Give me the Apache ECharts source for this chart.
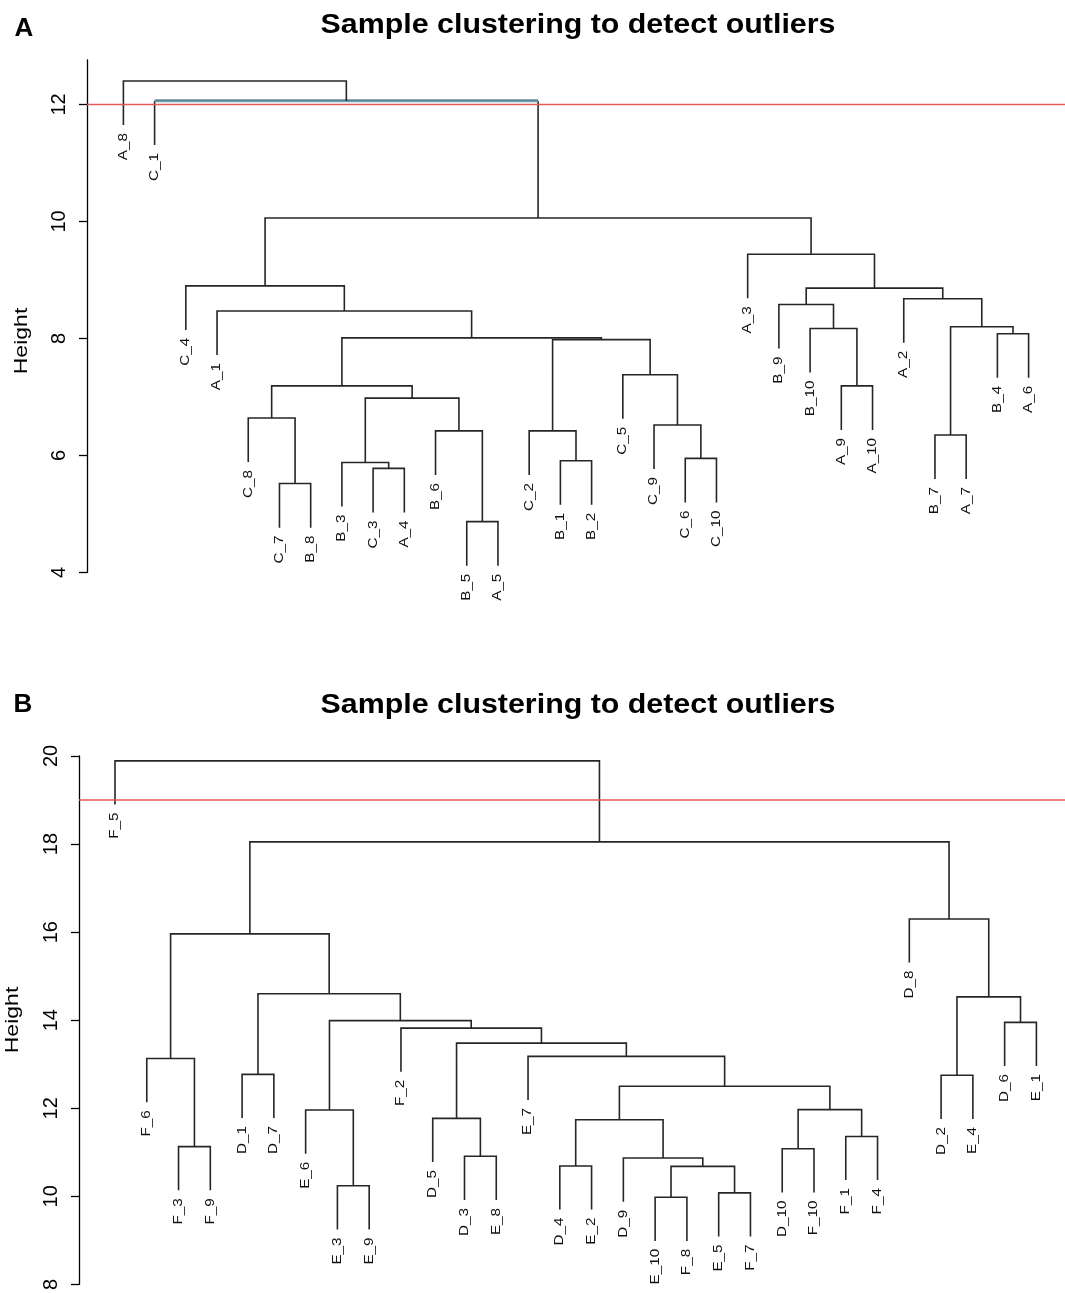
<!DOCTYPE html>
<html><head><meta charset="utf-8">
<script src="https://cdn.jsdelivr.net/npm/echarts@6/dist/echarts.min.js"></script>
<style>html,body{margin:0;padding:0;background:#fff}#c{width:1065px;height:1293px}</style>
</head><body><div id="c"></div>
<script>
// ---------- Panel A data ----------
const leavesA = ['A_8','C_1','C_4','A_1','C_8','C_7','B_8','B_3','C_3','A_4','B_6','B_5','A_5','C_2','B_1','B_2','C_5','C_9','C_6','C_10','A_3','B_9','B_10','A_9','A_10','A_2','B_7','A_7','B_4','A_6'];
const mergesA = [
  ['B_5','A_5'],['C_7','B_8'],['C_3','A_4'],['B_3','m3'],['B_1','B_2'],
  ['C_6','C_10'],['B_7','A_7'],['B_6','m1'],['C_2','m5'],['C_9','m6'],
  ['C_8','m2'],['m4','m8'],['m11','m12'],['A_9','A_10'],['C_5','m10'],
  ['m9','m15'],['m13','m16'],['B_4','A_6'],['B_10','m14'],['m7','m18'],
  ['A_1','m17'],['B_9','m19'],['A_2','m20'],['m22','m23'],['C_4','m21'],
  ['A_3','m24'],['m25','m26'],['C_1','m27'],['A_8','m28']
];
const heightsA = [4.87,5.52,5.78,5.88,5.91,5.95,6.35,6.42,6.42,6.52,6.64,6.98,7.19,7.19,7.38,7.98,8.01,8.08,8.17,8.20,8.47,8.58,8.68,8.86,8.90,9.44,10.06,12.06,12.40];
const cutA = 12;
const ticksA = [4,6,8,10,12];

// ---------- Panel B data ----------
const leavesB = ['F_5','F_6','F_3','F_9','D_1','D_7','E_6','E_3','E_9','F_2','D_5','D_3','E_8','E_7','D_4','E_2','D_9','E_10','F_8','E_5','F_7','D_10','F_10','F_1','F_4','D_8','D_2','E_4','D_6','E_1'];
const mergesB = [
  ['E_10','F_8'],['E_5','F_7'],['E_3','E_9'],['m1','m2'],['D_4','E_2'],
  ['D_9','m4'],['D_3','E_8'],['D_10','F_10'],['F_3','F_9'],['F_1','F_4'],
  ['m5','m6'],['D_5','m7'],['E_6','m3'],['m8','m10'],['m11','m14'],
  ['D_2','E_4'],['D_1','D_7'],['F_6','m9'],['E_7','m15'],['m12','m19'],
  ['F_2','m20'],['D_6','E_1'],['m13','m21'],['m16','m22'],['m17','m23'],
  ['m18','m25'],['D_8','m24'],['m26','m27'],['F_5','m28']
];
const heightsB = [9.98,10.08,10.24,10.68,10.69,10.87,10.91,11.08,11.13,11.36,11.74,11.77,11.96,11.97,12.50,12.75,12.77,13.13,13.18,13.48,13.82,13.95,13.99,14.53,14.60,15.96,16.30,18.05,19.89];
const cutB = 19;
const ticksB = [8,10,12,14,16,18,20];

const title = 'Sample clustering to detect outliers';
const FONT = '"Liberation Sans", Arial, Helvetica, sans-serif';

// dendrogram layout as in R's plot.hclust (hang = 0.1)
function layout(leaves, merges, heights) {
  const pos = {};
  leaves.forEach((l, i) => pos[l] = {x: i, leaf: true});
  const hang = 0.1 * (Math.max(...heights) - Math.min(...heights));
  const links = [];
  merges.forEach((pair, k) => {
    const h = heights[k];
    const a = pos[pair[0]], b = pos[pair[1]];
    const ha = a.leaf ? h - hang : a.h;
    const hb = b.leaf ? h - hang : b.h;
    if (a.leaf) a.end = ha;
    if (b.leaf) b.end = hb;
    const row = a.x <= b.x ? [a.x, b.x, h, ha, hb, k + 1] : [b.x, a.x, h, hb, ha, k + 1];
    links.push(row);
    pos['m' + (k + 1)] = {x: (a.x + b.x) / 2, h: h, leaf: false};
  });
  const labels = leaves.map((l, i) => [i, pos[l].end]);
  return {links, labels};
}
const LA = layout(leavesA, mergesA, heightsA);
const LB = layout(leavesB, mergesB, heightsB);

function linkSeries(L, gi, tinted) {
  return {
    type: 'custom', xAxisIndex: gi, yAxisIndex: gi, silent: true, clip: false, z: 3,
    encode: {x: [0, 1], y: [2, 3, 4]},
    data: L.links,
    renderItem: (params, api) => {
      const xl = api.value(0), xr = api.value(1), h = api.value(2), hl = api.value(3), hr = api.value(4), id = api.value(5);
      const p1 = api.coord([xl, hl]), p2 = api.coord([xl, h]), p3 = api.coord([xr, h]), p4 = api.coord([xr, hr]);
      const st = {stroke: '#262626', lineWidth: 1.6, fill: null};
      if (id === tinted) {
        return {type: 'group', children: [
          {type: 'polyline', shape: {points: [p1, p2]}, style: st},
          {type: 'polyline', shape: {points: [p3, p4]}, style: st},
          {type: 'polyline', shape: {points: [p2, p3]}, style: {stroke: '#6b9fb3', lineWidth: 2.4, fill: null}},
          {type: 'polyline', shape: {points: [[p2[0], p2[1] - 1], [p3[0], p3[1] - 1]]}, style: {stroke: '#3d5560', lineWidth: 0.8, fill: null}}
        ]};
      }
      return {type: 'polyline', shape: {points: [p1, p2, p3, p4]}, style: st};
    }
  };
}
function labelSeries(L, leaves, gi) {
  return {
    type: 'custom', xAxisIndex: gi, yAxisIndex: gi, silent: true, clip: false, z: 4,
    encode: {x: 0, y: 1},
    data: L.labels,
    renderItem: (params, api) => {
      const p = api.coord([api.value(0), api.value(1)]);
      return {
        type: 'text', x: p[0], y: p[1] + 8, rotation: Math.PI / 2, scaleX: 1.22, scaleY: 1,
        style: {text: leaves[params.dataIndex], fill: '#111', fontSize: 12.5, fontFamily: FONT,
          align: 'right', textAlign: 'right', verticalAlign: 'middle', textVerticalAlign: 'middle'}
      };
    }
  };
}
function cutSeries(gi, cut, xmin, xmax) {
  return {
    type: 'line', xAxisIndex: gi, yAxisIndex: gi, silent: true, symbol: 'none', z: 5,
    lineStyle: {color: '#e25a5a', width: 1.6},
    data: [[xmin, cut], [xmax, cut]]
  };
}
function yAx(gi, min, max, ticks) {
  return {
    type: 'value', gridIndex: gi, min: min, max: max,
    splitLine: {show: false},
    axisLine: {show: true, onZero: false, lineStyle: {color: '#000', width: 1.3}},
    axisTick: {show: true, length: 8, customValues: ticks, lineStyle: {color: '#000', width: 1.3}},
    axisLabel: {customValues: ticks, rotate: 90, fontSize: 20, color: '#000', fontFamily: FONT, margin: 18}
  };
}
function xAx(gi, min, max) {
  return {type: 'value', gridIndex: gi, min: min, max: max, show: false, splitLine: {show: false}, axisLine: {onZero: false}};
}

const xA = [-1.166, 30.166], xB = [-1.133, 29.9];
const chart = echarts.init(document.getElementById('c'), null, {renderer: 'canvas'});
chart.setOption({
  animation: false,
  backgroundColor: '#fff',
  grid: [
    {left: 87, top: 60, width: 978, height: 512.5},
    {left: 79, top: 756, width: 986, height: 532}
  ],
  xAxis: [xAx(0, xA[0], xA[1]), xAx(1, xB[0], xB[1])],
  yAxis: [yAx(0, 4, 12.76, ticksA), yAx(1, 8, 20, ticksB)],
  series: [
    linkSeries(LA, 0, 28), labelSeries(LA, leavesA, 0), cutSeries(0, cutA, xA[0], xA[1]),
    linkSeries(LB, 1, -1), labelSeries(LB, leavesB, 1), cutSeries(1, cutB, xB[0], xB[1])
  ],
  graphic: [
    {type: 'text', x: 24, y: 29, style: {text: 'A', fontSize: 26, fontWeight: 'bold', fontFamily: FONT, fill: '#000', align: 'center', textAlign: 'center', verticalAlign: 'middle', textVerticalAlign: 'middle'}},
    {type: 'text', x: 578, y: 25, scaleX: 1.085, style: {text: title, fontSize: 28, fontWeight: 'bold', fontFamily: FONT, fill: '#000', align: 'center', textAlign: 'center', verticalAlign: 'middle', textVerticalAlign: 'middle'}},
    {type: 'text', x: 22, y: 341, rotation: Math.PI / 2, scaleX: 1.28, style: {text: 'Height', fontSize: 18, fontFamily: FONT, fill: '#000', align: 'center', textAlign: 'center', verticalAlign: 'middle', textVerticalAlign: 'middle'}},
    {type: 'text', x: 23, y: 705, style: {text: 'B', fontSize: 26, fontWeight: 'bold', fontFamily: FONT, fill: '#000', align: 'center', textAlign: 'center', verticalAlign: 'middle', textVerticalAlign: 'middle'}},
    {type: 'text', x: 578, y: 705, scaleX: 1.085, style: {text: title, fontSize: 28, fontWeight: 'bold', fontFamily: FONT, fill: '#000', align: 'center', textAlign: 'center', verticalAlign: 'middle', textVerticalAlign: 'middle'}},
    {type: 'text', x: 13, y: 1020, rotation: Math.PI / 2, scaleX: 1.28, style: {text: 'Height', fontSize: 18, fontFamily: FONT, fill: '#000', align: 'center', textAlign: 'center', verticalAlign: 'middle', textVerticalAlign: 'middle'}}
  ]
});
</script></body></html>
